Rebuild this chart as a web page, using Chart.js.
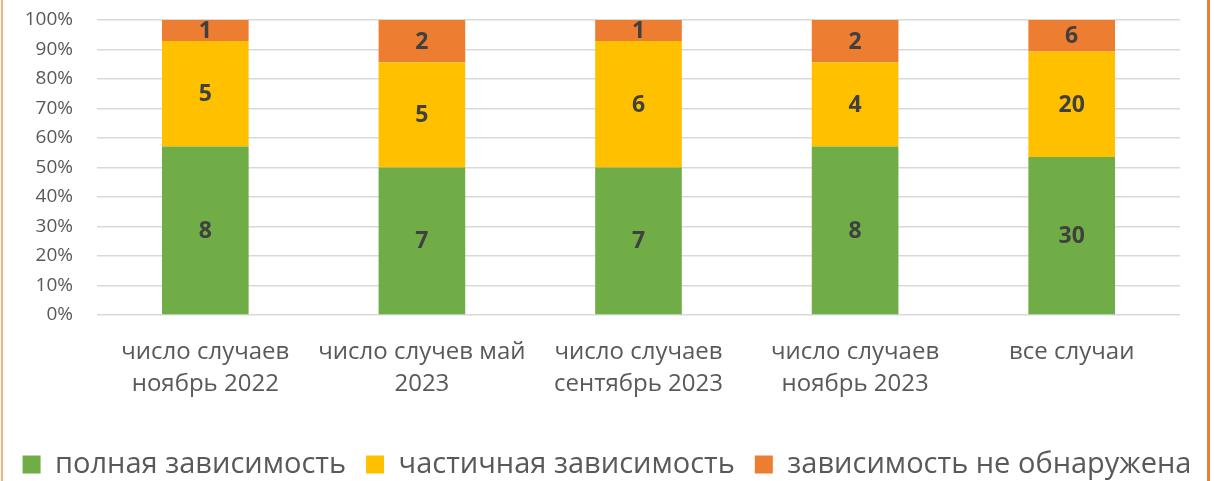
<!DOCTYPE html>
<html>
<head>
<meta charset="utf-8">
<script src="https://cdn.jsdelivr.net/npm/chart.js@4"></script>
<style>
  html, body { margin: 0; padding: 0; background: #fff; }
  #wrap { position: relative; width: 1214px; height: 481px; }
  #edgeL { position: absolute; left: 1px; top: 0; width: 2px; height: 481px; background: #f4b183; }
  #edgeR { position: absolute; left: 1207px; top: 0; width: 3px; height: 481px; background: #ed7d31; }
</style>
</head>
<body>
<div id="wrap">
  <canvas id="depChart" width="1214" height="481"></canvas>
  <div id="edgeL"></div>
  <div id="edgeR"></div>
</div>
<script>
// categories and counts
const categories = [
  ['число случаев', 'ноябрь 2022'],
  ['число случев май', '2023'],
  ['число случаев', 'сентябрь 2023'],
  ['число случаев', 'ноябрь 2023'],
  ['все случаи']
];
const seriesNames = ['полная зависимость', 'частичная зависимость', 'зависимость не обнаружена'];
const fullDep = [8, 7, 7, 8, 30];
const partialDep = [5, 5, 6, 4, 20];
const noDep = [1, 2, 1, 2, 6];
const yTicks = [0, 10, 20, 30, 40, 50, 60, 70, 80, 90, 100];

const colors = ['#70ad47', '#ffc000', '#ed7d31'];
const counts = [fullDep, partialDep, noDep];
const totals = fullDep.map((v, i) => v + partialDep[i] + noDep[i]);
const pct = (arr) => arr.map((v, i) => v / totals[i] * 100);

const fontFam = 'Open Sans';

// draws the counts in the middle of each segment
const countLabels = {
  id: 'countLabels',
  afterDatasetsDraw(chart) {
    const ctx = chart.ctx;
    ctx.save();
    ctx.font = 'bold 23px "' + fontFam + '"';
    ctx.fillStyle = '#404040';
    ctx.textAlign = 'center';
    ctx.textBaseline = 'middle';
    chart.data.datasets.forEach((ds, di) => {
      const meta = chart.getDatasetMeta(di);
      meta.data.forEach((bar, i) => {
        const y = (bar.y + bar.base) / 2;
        ctx.fillText(String(counts[di][i]), bar.x, y + 1);
      });
    });
    ctx.restore();
  }
};

const data = {
  labels: categories,
  datasets: seriesNames.map((name, k) => ({
    label: name,
    data: pct(counts[k]),
    backgroundColor: colors[k],
    barPercentage: 0.4,
    categoryPercentage: 1.0
  }))
};

const depConfig = {
  type: 'bar',
  data,
  plugins: [countLabels],
  options: {
    responsive: false,
    animation: false,
    layout: { padding: { top: 20, left: 0, right: 0, bottom: -8 } },
    plugins: {
      tooltip: { enabled: false },
      legend: {
        position: 'bottom',
        labels: {
          boxWidth: 18,
          boxHeight: 18,
          padding: 20,
          color: '#595959',
          font: { family: fontFam, size: 29 }
        }
      }
    },
    scales: {
      x: {
        stacked: true,
        grid: { display: false, drawTicks: false },
        border: { display: false },
        afterFit(axis) { axis.height = 115; },
        ticks: {
          color: '#595959',
          padding: 22,
          maxRotation: 0,
          autoSkip: false,
          font: { family: fontFam, size: 24, lineHeight: 1.3 }
        }
      },
      y: {
        stacked: true,
        min: 0,
        max: 100,
        afterBuildTicks(axis) { axis.ticks = yTicks.map(v => ({ value: v })); },
        afterFit(axis) {
          axis.width = 97;
          axis.paddingTop = 0;
          axis.paddingBottom = 0;
        },
        grid: { color: '#d9d9d9', lineWidth: 1.5, drawTicks: false },
        border: { display: false },
        ticks: {
          color: '#595959',
          padding: 24,
          autoSkip: false,
          font: { family: fontFam, size: 19 },
          callback: (v) => v + '%'
        }
      },
      // empty right axis, only keeps the plot off the right edge
      yR: {
        position: 'right',
        min: 0,
        max: 100,
        afterFit(axis) { axis.width = 34; },
        grid: { display: false, drawTicks: false },
        border: { display: false },
        ticks: { display: false }
      }
    }
  }
};

const depChart = new Chart(document.getElementById('depChart'), depConfig);
</script>
</body>
</html>
